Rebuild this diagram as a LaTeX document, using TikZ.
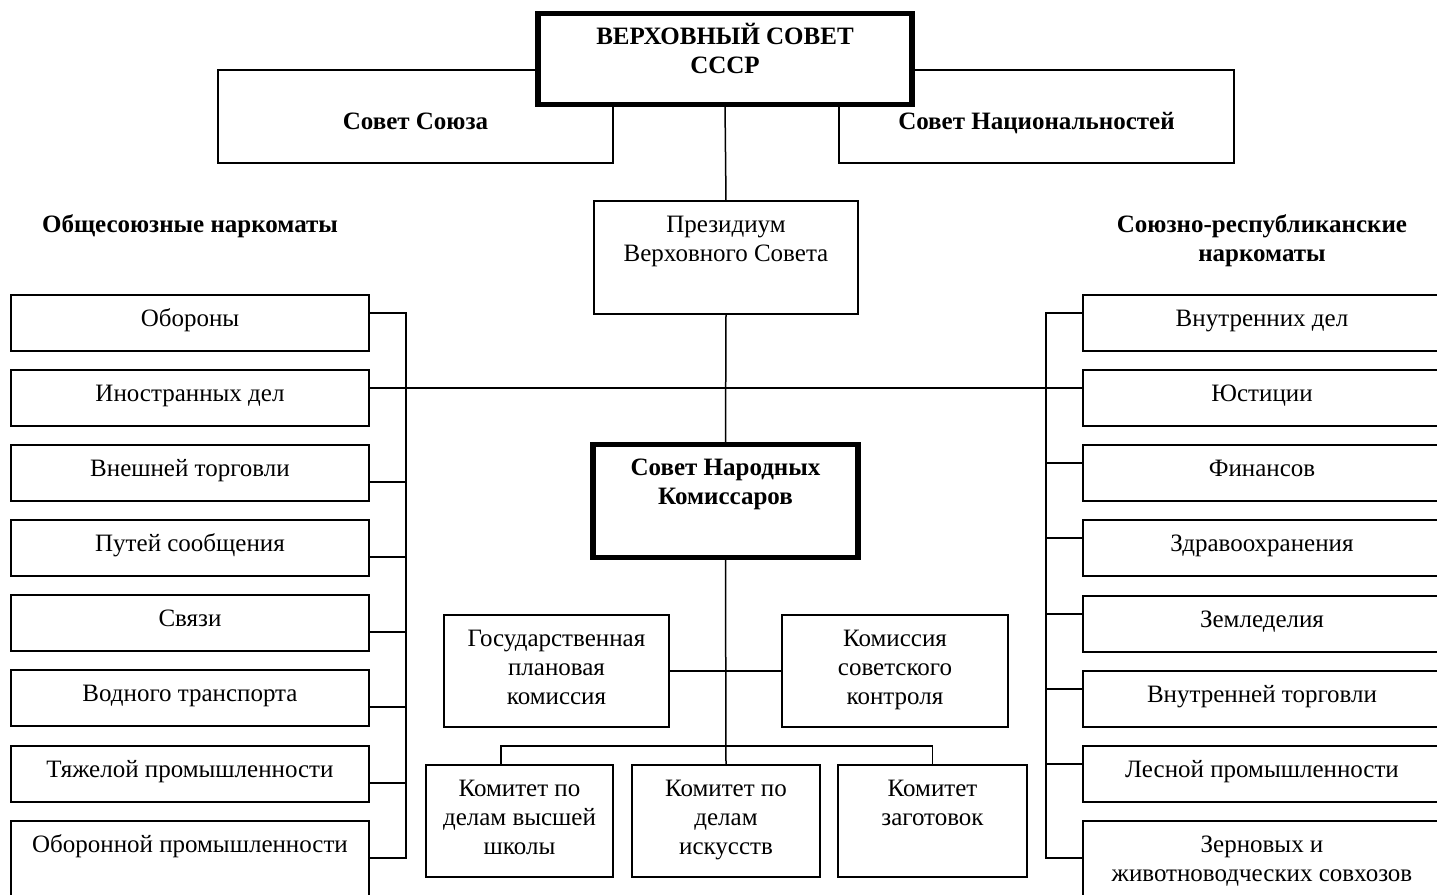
\documentclass[tikz,border=0pt]{standalone}
\usepackage{fontspec}
\setmainfont{Liberation Serif}
\usetikzlibrary{calc}
\newcommand\mkbox[7]{%
  \node[#1, minimum width={#5pt-#3pt}, minimum height={#6pt-#4pt}] (#2) at ({(#3+#5)/2},{(#4+#6)/2}) {};
  \node[txt] (#2-t) at ($(#2.north)+(0,9)$) {\rule{0pt}{22pt}#7};}
\begin{document}
\begin{tikzpicture}[x=1pt,y=-1pt,
  box/.style={draw, line width=1.5pt, fill=white, inner sep=0pt, outer sep=0pt},
  thickbox/.style={draw, line width=5.5pt, fill=white, inner sep=0pt, outer sep=0pt},
  txt/.style={inner sep=0pt, anchor=north, align=center, font=\fontsize{25}{29}\selectfont},
  btxt/.style={txt, font=\fontsize{25}{29}\selectfont\bfseries},
  conn/.style={line width=1.5pt}]
\useasboundingbox[fill=white] (0,0) rectangle (1437,894);

% top level
\node[box, minimum width=395pt, minimum height=93pt] (soyuz) at (415.5,116.5) {};
\node[btxt] (soyuz-t) at ($(soyuz.north)+(0,37)$) {\rule{0pt}{22pt}Совет Союза};
\node[box, minimum width=395pt, minimum height=93pt] (nats) at (1036.5,116.5) {};
\node[btxt] (nats-t) at ($(nats.north)+(0,37)$) {\rule{0pt}{22pt}Совет Национальностей};
\node[thickbox, minimum width=374pt, minimum height=91pt] (vs) at (725,59) {};
\node[btxt] (vs-t) at ($(vs.north)+(0,9)$) {\rule{0pt}{22pt}ВЕРХОВНЫЙ СОВЕТ\\СССР};

\mkbox{box}{prez}{594}{201}{858}{314}{Президиум\\Верховного Совета}
\node[thickbox, minimum width=265pt, minimum height=113pt] (snk) at (725.5,501) {};
\node[btxt] (snk-t) at ($(snk.north)+(0,9)$) {\rule{0pt}{22pt}Совет Народных\\Комиссаров};

% headings
\node[btxt] (h1) at (190,210) {\rule{0pt}{22pt}Общесоюзные наркоматы};
\node[btxt] (h2) at (1262,210) {\rule{0pt}{22pt}Союзно-республиканские\\наркоматы};

% left column
\mkbox{box}{obor}{11}{295}{369}{351}{Обороны}
\mkbox{box}{inostr}{11}{370}{369}{426}{Иностранных дел}
\mkbox{box}{vnesh}{11}{445}{369}{501}{Внешней торговли}
\mkbox{box}{puti}{11}{520}{369}{576}{Путей сообщения}
\mkbox{box}{svyazi}{11}{595}{369}{651}{Связи}
\mkbox{box}{vodn}{11}{670}{369}{726}{Водного транспорта}
\mkbox{box}{tyazh}{11}{746}{369}{802}{Тяжелой промышленности}
\mkbox{box}{oprom}{11}{821}{369}{912}{Оборонной промышленности}

% right column
\mkbox{box}{vnutr}{1083}{295}{1441}{351}{Внутренних дел}
\mkbox{box}{just}{1083}{370}{1441}{426}{Юстиции}
\mkbox{box}{fin}{1083}{445}{1441}{501}{Финансов}
\mkbox{box}{zdrav}{1083}{520}{1441}{576}{Здравоохранения}
\mkbox{box}{zeml}{1083}{596}{1441}{652}{Земледелия}
\mkbox{box}{vtorg}{1083}{671}{1441}{727}{Внутренней торговли}
\mkbox{box}{les}{1083}{746}{1441}{802}{Лесной промышленности}
\mkbox{box}{zern}{1083}{821}{1441}{912}{Зерновых и\\животноводческих совхозов}

% centre lower
\mkbox{box}{gosplan}{444}{615}{669}{727}{Государственная\\плановая\\комиссия}
\mkbox{box}{komis}{782}{615}{1008}{727}{Комиссия\\советского\\контроля}
\mkbox{box}{c1}{426}{765}{613}{877}{Комитет по\\делам высшей\\школы}
\mkbox{box}{c2}{632}{765}{820}{877}{Комитет по\\делам\\искусств}
\mkbox{box}{c3}{838}{765}{1027}{877}{Комитет\\заготовок}

% connectors
\draw[conn] (vs.south) -- (prez.north);
\draw[conn] (prez.south) -- (snk.north);
\draw[conn] (snk.south) -- (c2.north);
\draw[conn] ($(inostr.north east)+(0,18)$) -- ($(just.north west)+(0,18)$);
\draw[conn] (gosplan.east) -- (komis.west);
\draw[conn] ($(c1.north west)+(75,0)$) -- ++(0,-19) -| (c3.north);

% left bus
\draw[conn] ($(obor.north east)+(0,18)$) -- ++(37,0) |- ($(oprom.north east)+(0,37)$);
\foreach \n in {vnesh,puti,svyazi,vodn,tyazh}
  \draw[conn] ($(\n.north east)+(0,37)$) -- ++(37,0);
% right bus
\draw[conn] ($(vnutr.north west)+(0,18)$) -- ++(-37,0) |- ($(zern.north west)+(0,37)$);
\foreach \n in {fin,zdrav,zeml,vtorg,les}
  \draw[conn] ($(\n.north west)+(0,18)$) -- ++(-37,0);
\end{tikzpicture}
\end{document}
